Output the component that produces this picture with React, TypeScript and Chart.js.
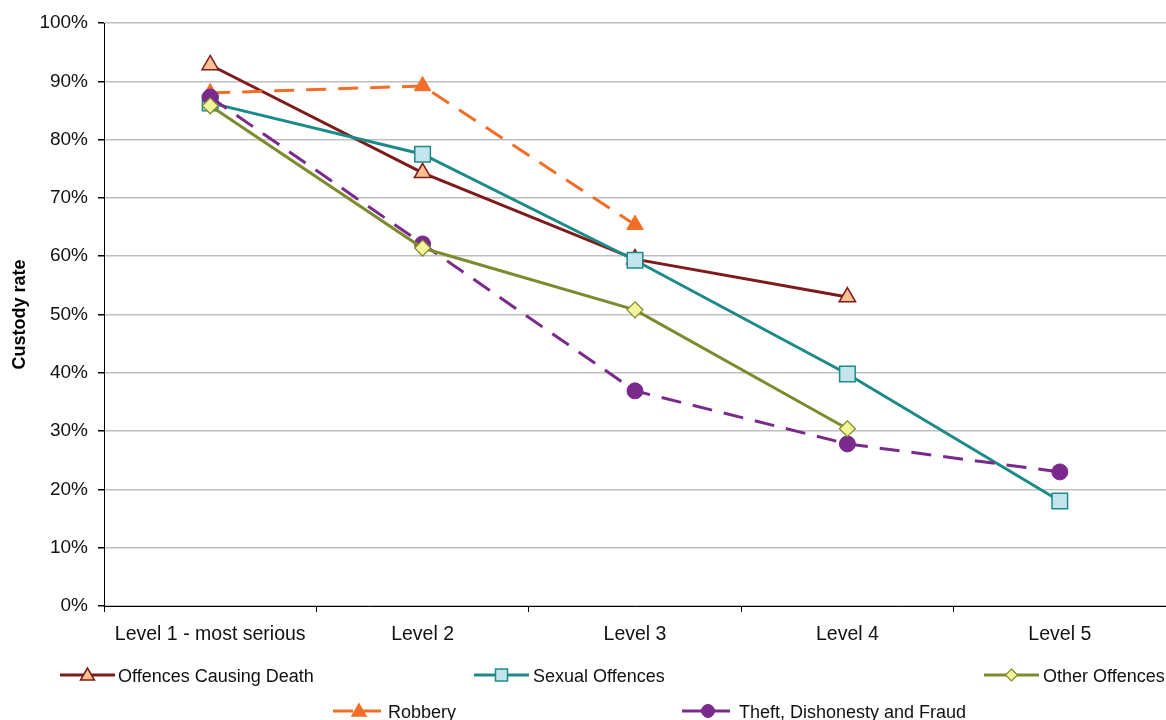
import React, { useEffect, useRef } from "react";
import { Chart, registerables } from "chart.js";

Chart.register(...registerables);

const categories = ["Level 1 - most serious", "Level 2", "Level 3", "Level 4", "Level 5"];
const yTicks = [0, 10, 20, 30, 40, 50, 60, 70, 80, 90, 100];

const causingDeath = [92.8, 74.3, 59.5, 53.0, null];
const sexualOffences = [86.3, 77.5, 59.3, 39.8, 18.0];
const otherOffences = [85.8, 61.4, 50.8, 30.4, null];
const robbery = [88.0, 89.2, 65.4, null, null];
const theftFraud = [87.3, 62.1, 36.9, 27.8, 23.0];

const FONT = "'Liberation Sans', Arial, sans-serif";

const C_DEATH = "#7F1A1A";
const C_DEATH_FILL = "#FAC090";
const C_SEX = "#1D8A8A";
const C_SEX_FILL = "#C4E5EB";
const C_OTHER = "#7F8A2E";
const C_OTHER_FILL = "#F4F49A";
const C_ROB = "#F26E26";
const C_THEFT = "#7A2A8C";

type LegendItem = {
  label: string;
  x1: number;
  x2: number;
  y: number;
  tx: number;
  color: string;
  fill: string;
  marker: "tri" | "rect" | "diamond" | "circle";
  dashed: boolean;
};

const legendItems: LegendItem[] = [
  { label: "Offences Causing Death", x1: 60, x2: 115, y: 675, tx: 118, color: C_DEATH, fill: C_DEATH_FILL, marker: "tri", dashed: false },
  { label: "Sexual Offences", x1: 474, x2: 529, y: 675, tx: 533, color: C_SEX, fill: C_SEX_FILL, marker: "rect", dashed: false },
  { label: "Other Offences", x1: 984, x2: 1039, y: 675, tx: 1043, color: C_OTHER, fill: C_OTHER_FILL, marker: "diamond", dashed: false },
  { label: "Robbery", x1: 333, x2: 385, y: 711, tx: 388, color: C_ROB, fill: C_ROB, marker: "tri", dashed: true },
  { label: "Theft, Dishonesty and Fraud", x1: 682, x2: 734, y: 711, tx: 739, color: C_THEFT, fill: C_THEFT, marker: "circle", dashed: true },
];

function Marker({ it }: { it: LegendItem }) {
  const cx = (it.x1 + it.x2) / 2;
  const cy = it.y;
  const stroke = it.color;
  if (it.marker === "tri") {
    return <polygon points={`${cx},${cy - 7} ${cx - 7},${cy + 5} ${cx + 7},${cy + 5}`} fill={it.fill} stroke={stroke} strokeWidth={1.5} />;
  }
  if (it.marker === "rect") {
    return <rect x={cx - 6} y={cy - 6} width={12} height={12} fill={it.fill} stroke={stroke} strokeWidth={1.5} />;
  }
  if (it.marker === "diamond") {
    return <polygon points={`${cx},${cy - 6} ${cx + 6},${cy} ${cx},${cy + 6} ${cx - 6},${cy}`} fill={it.fill} stroke={stroke} strokeWidth={1.2} />;
  }
  return <circle cx={cx} cy={cy} r={6.5} fill={it.fill} stroke={stroke} strokeWidth={1} />;
}

export default function App() {
  const ref = useRef<HTMLCanvasElement | null>(null);

  useEffect(() => {
    if (!ref.current) return;
    const chart = new Chart(ref.current, {
      type: "line",
      data: {
        labels: categories,
        datasets: [
          {
            label: "Offences Causing Death",
            data: causingDeath,
            borderColor: C_DEATH,
            backgroundColor: C_DEATH_FILL,
            pointBackgroundColor: C_DEATH_FILL,
            pointBorderColor: C_DEATH,
            pointStyle: "triangle",
            pointRadius: 9.5,
            pointBorderWidth: 1.5,
            borderWidth: 3,
            order: 4,
          },
          {
            label: "Sexual Offences",
            data: sexualOffences,
            borderColor: C_SEX,
            backgroundColor: C_SEX_FILL,
            pointBackgroundColor: C_SEX_FILL,
            pointBorderColor: C_SEX,
            pointStyle: "rect",
            pointRadius: 11,
            pointBorderWidth: 1.5,
            borderWidth: 3,
            order: 2,
          },
          {
            label: "Other Offences",
            data: otherOffences,
            borderColor: C_OTHER,
            backgroundColor: C_OTHER_FILL,
            pointBackgroundColor: C_OTHER_FILL,
            pointBorderColor: C_OTHER,
            pointStyle: "rectRot",
            pointRadius: 8,
            pointBorderWidth: 1.2,
            borderWidth: 3,
            order: 0,
          },
          {
            label: "Robbery",
            data: robbery,
            borderColor: C_ROB,
            backgroundColor: C_ROB,
            pointBackgroundColor: C_ROB,
            pointBorderColor: C_ROB,
            pointStyle: "triangle",
            pointRadius: 9.5,
            pointBorderWidth: 1,
            borderWidth: 3,
            borderDash: [20, 12],
            order: 3,
          },
          {
            label: "Theft, Dishonesty and Fraud",
            data: theftFraud,
            borderColor: C_THEFT,
            backgroundColor: C_THEFT,
            pointBackgroundColor: C_THEFT,
            pointBorderColor: C_THEFT,
            pointStyle: "circle",
            pointRadius: 8,
            pointBorderWidth: 1,
            borderWidth: 3,
            borderDash: [20, 12],
            order: 1,
          },
        ],
      },
      options: {
        animation: false,
        responsive: false,
        maintainAspectRatio: false,
        spanGaps: false,
        layout: { autoPadding: false, padding: { top: 23, right: 0, bottom: 0, left: 0 } },
        plugins: {
          legend: { display: false },
          tooltip: { enabled: false },
        },
        elements: { line: { tension: 0 } },
        scales: {
          x: {
            offset: true,
            grid: {
              offset: true,
              drawOnChartArea: false,
              drawTicks: true,
              tickLength: 6,
              color: "#000",
              tickColor: "#000",
            },
            border: { color: "#000", width: 1 },
            ticks: {
              color: "#111",
              font: { family: FONT, size: 19.5 },
              padding: 11,
              maxRotation: 0,
              autoSkip: false,
            },
            afterFit: (s: any) => {
              s.height = 44;
              s.paddingRight = 0;
              s.paddingLeft = 0;
            },
          },
          y: {
            min: 0,
            max: 100,
            afterBuildTicks: (s: any) => {
              s.ticks = yTicks.map((v) => ({ value: v }));
            },
            grid: {
              color: "#BFBFBF",
              lineWidth: 1.5,
              tickColor: "#000",
              tickLength: 6,
              drawTicks: true,
            },
            border: { color: "#000", width: 1 },
            ticks: {
              color: "#111",
              font: { family: FONT, size: 19 },
              padding: 10,
              callback: (v: any) => `${v}%`,
            },
            title: {
              display: true,
              text: "Custody rate",
              color: "#000",
              font: { family: FONT, size: 18, weight: "bold" },
              padding: { top: 9, bottom: 4 },
            },
            afterFit: (s: any) => {
              s.width = 104;
            },
          },
        },
      },
    });
    return () => chart.destroy();
  }, []);

  return (
    <div style={{ position: "fixed", left: 0, top: 0, width: 1166, height: 720, background: "#fff", overflow: "hidden" }}>
      <canvas ref={ref} width={1166} height={650} style={{ position: "absolute", left: 0, top: 0, width: 1166, height: 650 }} />
      <svg width={1166} height={720} style={{ position: "absolute", left: 0, top: 0, pointerEvents: "none" }}>
        {legendItems.map((it) => (
          <g key={it.label}>
            <line
              x1={it.x1}
              x2={it.x2}
              y1={it.y}
              y2={it.y}
              stroke={it.color}
              strokeWidth={3}
              strokeDasharray={it.dashed ? "20 8" : undefined}
            />
            <Marker it={it} />
            <text x={it.tx} y={it.y + 6.5} fontFamily={FONT} fontSize={18} fill="#111">
              {it.label}
            </text>
          </g>
        ))}
      </svg>
    </div>
  );
}
